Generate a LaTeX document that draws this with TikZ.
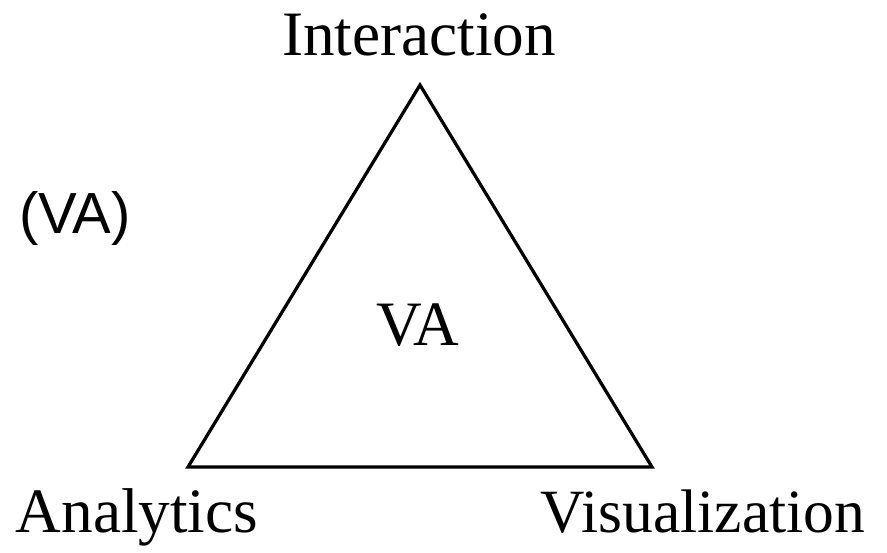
\documentclass[tikz,border=0pt]{standalone}
\usepackage{fontspec}
\setmainfont{Liberation Serif}
\newfontfamily\labelsans{Liberation Sans}
\usetikzlibrary{positioning}
\definecolor{ink}{HTML}{000000}

\begin{document}
\begin{tikzpicture}[
  x=0.02cm,y=-0.02cm,
  text=ink,
  side/.style={draw=ink,line width=0.065cm,line join=miter},
  corner/.style={font=\fontsize{36}{40}\selectfont,anchor=base,inner sep=0pt},
  tag/.style={font=\labelsans\fontsize{33}{38}\selectfont,anchor=base,inner sep=0pt}
]
  \useasboundingbox (0,0) rectangle (887,552);

  \coordinate (top) at (420,85);
  \coordinate (left) at (188,467);
  \coordinate (right) at (652,467);
  \draw[side] (top) -- (left) -- (right) -- cycle;

  \node[corner] (interaction) at (419,55) {Interaction};
  \node[corner] (analytics) at (137,532) {Analytics};
  \node[corner,font=\fontsize{35}{40}\selectfont] (visualization) at (703,532) {Visualization};
  \node[corner] (va) at (418,345) {VA};
  \node[tag] (vaparen) at (75,233) {(VA)};
\end{tikzpicture}
\end{document}
